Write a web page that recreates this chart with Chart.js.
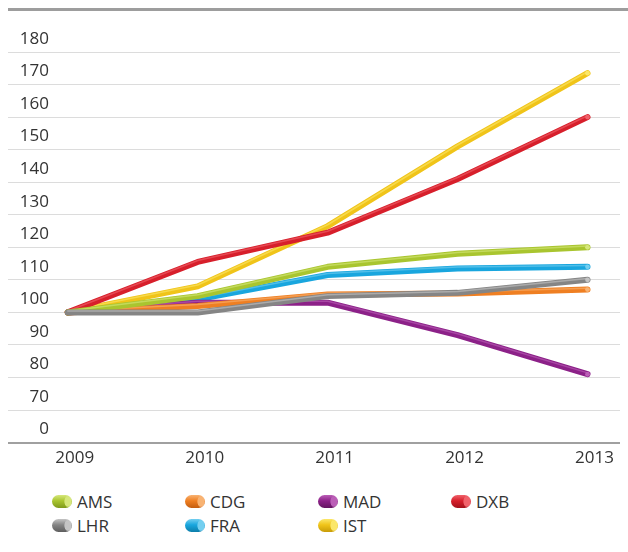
<!DOCTYPE html>
<html>
<head>
<meta charset="utf-8">
<script src="https://cdn.jsdelivr.net/npm/chart.js"></script>
<style>
    body { margin: 0; background: #fff; font-family: "Open Sans", "Noto Sans", sans-serif; }
    #wrap { position: relative; width: 628px; height: 552px; }
    #topline { position: absolute; left: 8px; right: 0; top: 8px; height: 3px; background: #9d9d9d; }
    #chartBox { position: absolute; left: 0; top: 0; width: 628px; height: 476px; }
    #legend { position: absolute; left: 52px; top: 490px; width: 560px; }
    .item { position: absolute; display: flex; align-items: center; font-size: 17px; color: #333; }
    .swatch { width: 20px; height: 13px; border-radius: 7px; margin-right: 5px; }
</style>
</head>
<body>
<div id="wrap">
    <div id="topline"></div>
    <div id="chartBox"><canvas id="lineChart"></canvas></div>
    <div id="legend"></div>
</div>
<script>
// Jahre und Werte (Index 2009 = 100)
const years = [2009, 2010, 2011, 2012, 2013];
const ams = [100, 105, 114, 118, 120];
const cdg = [100, 102, 105.5, 105.8, 107];
const mad = [100, 103, 103, 93, 81];
const dxb = [100, 115.5, 124.5, 141, 160];
const lhr = [100, 100, 105, 106, 110];
const fra = [100, 104, 111.5, 113.5, 114];
const ist = [100, 108, 126.5, 151, 173.5];

// Y-Achse: unterste Linie wird als "0" beschriftet (Achsenbruch)
const yMin = 60;
const yMax = 180;
const yStep = 10;

const series = [
    { label: 'AMS', data: ams, color: '#a9c52f', light: '#d6e77c', dark: '#7f9a1c' },
    { label: 'CDG', data: cdg, color: '#ef7f22', light: '#f8b373', dark: '#c45e10' },
    { label: 'MAD', data: mad, color: '#8c2188', light: '#bb5fb7', dark: '#641461' },
    { label: 'DXB', data: dxb, color: '#d71f2b', light: '#f0626b', dark: '#a3121b' },
    { label: 'LHR', data: lhr, color: '#858585', light: '#c4c4c4', dark: '#5e5e5e' },
    { label: 'FRA', data: fra, color: '#19a6de', light: '#74cff0', dark: '#0d7eaa' },
    { label: 'IST', data: ist, color: '#f0c419', light: '#fbe76a', dark: '#c89c08' }
];

// Glanzlicht auf den Linien (Zylinder-Optik)
const highlightPlugin = {
    id: 'highlight',
    afterDatasetDraw(chart, args) {
        const meta = args.meta;
        const ds = chart.data.datasets[args.index];
        const ctx = chart.ctx;
        ctx.save();
        ctx.lineCap = 'round';
        ctx.lineJoin = 'round';
        ctx.strokeStyle = ds.lightColor;
        ctx.globalAlpha = 0.6;
        ctx.lineWidth = 1.5;
        ctx.beginPath();
        meta.data.forEach((pt, i) => {
            if (i === 0) ctx.moveTo(pt.x, pt.y - 1.4);
            else ctx.lineTo(pt.x, pt.y - 1.4);
        });
        ctx.stroke();
        ctx.restore();
    }
};

// Y-Beschriftung links, oberhalb der Gitterlinien, rechtsbündig
const yLabelPlugin = {
    id: 'yLabels',
    afterDraw(chart) {
        const scale = chart.scales.y;
        const ctx = chart.ctx;
        ctx.save();
        ctx.font = '17px "Open Sans", "Noto Sans", sans-serif';
        ctx.fillStyle = '#333';
        ctx.textAlign = 'right';
        ctx.textBaseline = 'middle';
        for (let v = yMin; v <= yMax; v += yStep) {
            const y = scale.getPixelForValue(v);
            ctx.fillText(v === yMin ? '0' : String(v), 49, y - 13);
        }
        ctx.restore();
    }
};

const ctx = document.getElementById('lineChart').getContext('2d');
const lineChart = new Chart(ctx, {
    type: 'line',
    data: {
        datasets: series.map(s => ({
            label: s.label,
            data: years.map((y, i) => ({ x: y, y: s.data[i] })),
            borderColor: s.color,
            lightColor: s.light,
            borderWidth: 6,
            borderCapStyle: 'round',
            borderJoinStyle: 'round',
            tension: 0,
            pointRadius: c => (c.dataIndex === years.length - 1 ? 2.4 : 0),
            pointBackgroundColor: s.light,
            pointBorderWidth: 0,
            order: s.label === 'LHR' ? -1 : 0
        }))
    },
    options: {
        responsive: true,
        maintainAspectRatio: false,
        animation: false,
        layout: { padding: { left: 8, right: 8, top: 52, bottom: 3 } },
        plugins: { legend: { display: false }, tooltip: { enabled: false } },
        scales: {
            x: {
                type: 'linear',
                min: 2008.54,
                max: 2013.25,
                afterBuildTicks: axis => { axis.ticks = years.map(v => ({ value: v })); },
                grid: { display: false, drawTicks: false },
                border: { display: false },
                ticks: {
                    color: '#333',
                    font: { family: '"Open Sans", "Noto Sans", sans-serif', size: 17 },
                    padding: 5,
                    labelOffset: 7,
                    callback: v => String(v)
                }
            },
            y: {
                min: yMin,
                max: yMax,
                ticks: { stepSize: yStep, display: false },
                grid: {
                    drawTicks: false,
                    color: c => (c.tick && c.tick.value === yMin ? '#a0a0a0' : '#dcdcdc'),
                    lineWidth: c => (c.tick && c.tick.value === yMin ? 2 : 1)
                },
                border: { display: false }
            }
        }
    },
    plugins: [highlightPlugin, yLabelPlugin]
});

// Legende (4 Spalten)
const legend = document.getElementById('legend');
series.forEach((s, i) => {
    const item = document.createElement('div');
    item.className = 'item';
    item.style.left = (i % 4) * 133 + 'px';
    item.style.top = Math.floor(i / 4) * 24 + 'px';
    const sw = document.createElement('span');
    sw.className = 'swatch';
    sw.style.background = `radial-gradient(ellipse 4px 6px at 16px 6.5px, ${s.light} 0, ${s.light} 80%, transparent 100%), linear-gradient(to bottom, ${s.light}, ${s.color} 45%, ${s.dark})`;
    item.appendChild(sw);
    item.appendChild(document.createTextNode(s.label));
    legend.appendChild(item);
});
</script>
</body>
</html>
